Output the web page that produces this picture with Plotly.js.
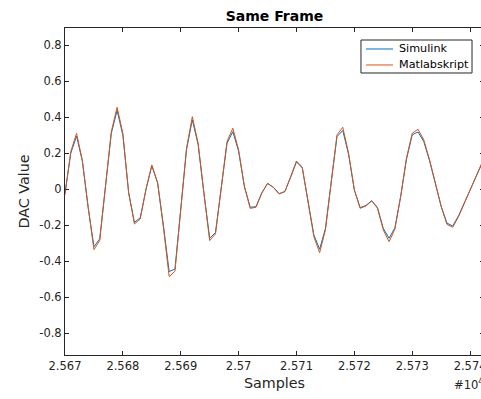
<!DOCTYPE html>
<html><head><meta charset="utf-8">
<script src="https://cdn.plot.ly/plotly-3.0.1.min.js"></script>
<style>html,body{margin:0;padding:0;overflow:hidden;background:#fff;width:481px;height:399px}</style>
</head><body><div id="chart"></div>
<script>
const samples = [25670,25671,25672,25673,25674,25675,25676,25677,25678,25679,
25680,25681,25682,25683,25684,25685,25686,25687,25688,25689,
25690,25691,25692,25693,25694,25695,25696,25697,25698,25699,
25700,25701,25702,25703,25704,25705,25706,25707,25708,25709,
25710,25711,25712,25713,25714,25715,25716,25717,25718,25719,
25720,25721,25722,25723,25724,25725,25726,25727,25728,25729,
25730,25731,25732,25733,25734,25735,25736,25737,25738,25739,
25740,25741,25742];
const simulink = [-0.02,0.2,0.295,0.155,-0.1,-0.319,-0.275,0.01,0.31,0.437,
0.3,-0.02,-0.184,-0.158,0.0,0.13,0.035,-0.2,-0.457,-0.443,
-0.125,0.22,0.385,0.248,-0.02,-0.272,-0.24,0.015,0.256,0.32,
0.21,0.015,-0.1,-0.097,-0.02,0.032,0.011,-0.025,-0.012,0.068,
0.152,0.118,-0.075,-0.253,-0.333,-0.218,0.04,0.292,0.326,0.193,
-0.004,-0.102,-0.09,-0.063,-0.102,-0.218,-0.272,-0.214,-0.04,0.166,
0.302,0.318,0.264,0.157,0.032,-0.094,-0.188,-0.204,-0.147,-0.075,
-0.004,0.065,0.139];
const matlabskript = [-0.03,0.21,0.31,0.16,-0.1,-0.335,-0.285,0.01,0.32,0.455,
0.31,-0.02,-0.193,-0.165,0.0,0.135,0.037,-0.21,-0.485,-0.455,
-0.13,0.228,0.403,0.256,-0.022,-0.285,-0.248,0.015,0.265,0.339,
0.218,0.015,-0.106,-0.1,-0.022,0.033,0.011,-0.026,-0.013,0.07,
0.157,0.122,-0.078,-0.263,-0.352,-0.226,0.04,0.302,0.344,0.2,
-0.004,-0.106,-0.093,-0.065,-0.106,-0.226,-0.291,-0.222,-0.041,0.172,
0.311,0.333,0.274,0.163,0.033,-0.097,-0.195,-0.211,-0.152,-0.078,
-0.004,0.067,0.144];
const seriesNames = ["Simulink", "Matlabskript"];
const seriesColors = ["#0072BD", "#D95319"];
const xTickVals = [25670,25680,25690,25700,25710,25720,25730,25740];
const xTickText = ["2.567","2.568","2.569","2.57","2.571","2.572","2.573","2.574"];
const yTickVals = [0.8,0.6,0.4,0.2,0,-0.2,-0.4,-0.6,-0.8];
const yTickText = ["0.8","0.6","0.4","0.2","0","-0.2","-0.4","-0.6","-0.8"];

const ink = '#262626';
const font = 'DejaVu Sans, sans-serif';
const seriesValues = [simulink, matlabskript];
const data = seriesValues.map((vals, k) => ({
  x: samples, y: vals, name: seriesNames[k], type: 'scatter', mode: 'lines',
  line: {color: seriesColors[k], width: 1}, showlegend: false
}));
const axisCommon = {
  showline: true, linecolor: ink, linewidth: 1, mirror: 'ticks',
  ticks: 'inside', ticklen: 4, tickcolor: ink, tickwidth: 1,
  showgrid: false, zeroline: false, ticklabeloverflow: 'allow',
  tickfont: {family: font, size: 11.5, color: ink}
};
// manual MATLAB-style legend box (paper coords)
const legX0 = 0.7064, legX1 = 0.9714, legY0 = 0.8624, legY1 = 0.9633;
const legRows = [0.9358, 0.8869];
const shapes = [{type: 'rect', xref: 'paper', yref: 'paper', x0: legX0, x1: legX1, y0: legY0, y1: legY1,
  line: {color: ink, width: 1}, fillcolor: '#fff', layer: 'above'}];
const annotations = [];
seriesNames.forEach((nm, k) => {
  shapes.push({type: 'line', xref: 'paper', yref: 'paper', x0: 0.7184, x1: 0.7828,
    y0: legRows[k], y1: legRows[k], line: {color: seriesColors[k], width: 1}, layer: 'above'});
  annotations.push({text: nm, xref: 'paper', yref: 'paper', x: 0.7924, y: legRows[k],
    xanchor: 'left', yanchor: 'middle', showarrow: false,
    font: {family: font, size: 11.2, color: '#000'}});
});
annotations.push({text: '#10<sup>4</sup>', xref: 'paper', yref: 'paper',
  x: 0.924, y: -0.062, xanchor: 'left', yanchor: 'top', showarrow: false,
  font: {family: font, size: 11.5, color: ink}});

const layout = {
  width: 485, height: 399,
  margin: {l: 65, r: 1, t: 28, b: 44},
  paper_bgcolor: '#fff', plot_bgcolor: '#fff',
  showlegend: false,
  title: {text: '<b>Same Frame</b>', font: {family: font, size: 14, color: '#000'},
          x: 0.5, xanchor: 'center', xref: 'paper', y: 0.96, yanchor: 'middle'},
  xaxis: Object.assign({}, axisCommon, {
    range: [25670, 25742.4], tickvals: xTickVals, ticktext: xTickText,
    title: {text: 'Samples', font: {family: font, size: 14.3, color: ink}, standoff: 6}
  }),
  yaxis: Object.assign({}, axisCommon, {
    range: [-0.92, 0.895], tickvals: yTickVals, ticktext: yTickText,
    title: {text: 'DAC Value', font: {family: font, size: 14.3, color: ink}, standoff: 6}
  }),
  shapes: shapes,
  annotations: annotations
};
Plotly.newPlot('chart', data, layout, {displayModeBar: false, staticPlot: true});
</script></body></html>
